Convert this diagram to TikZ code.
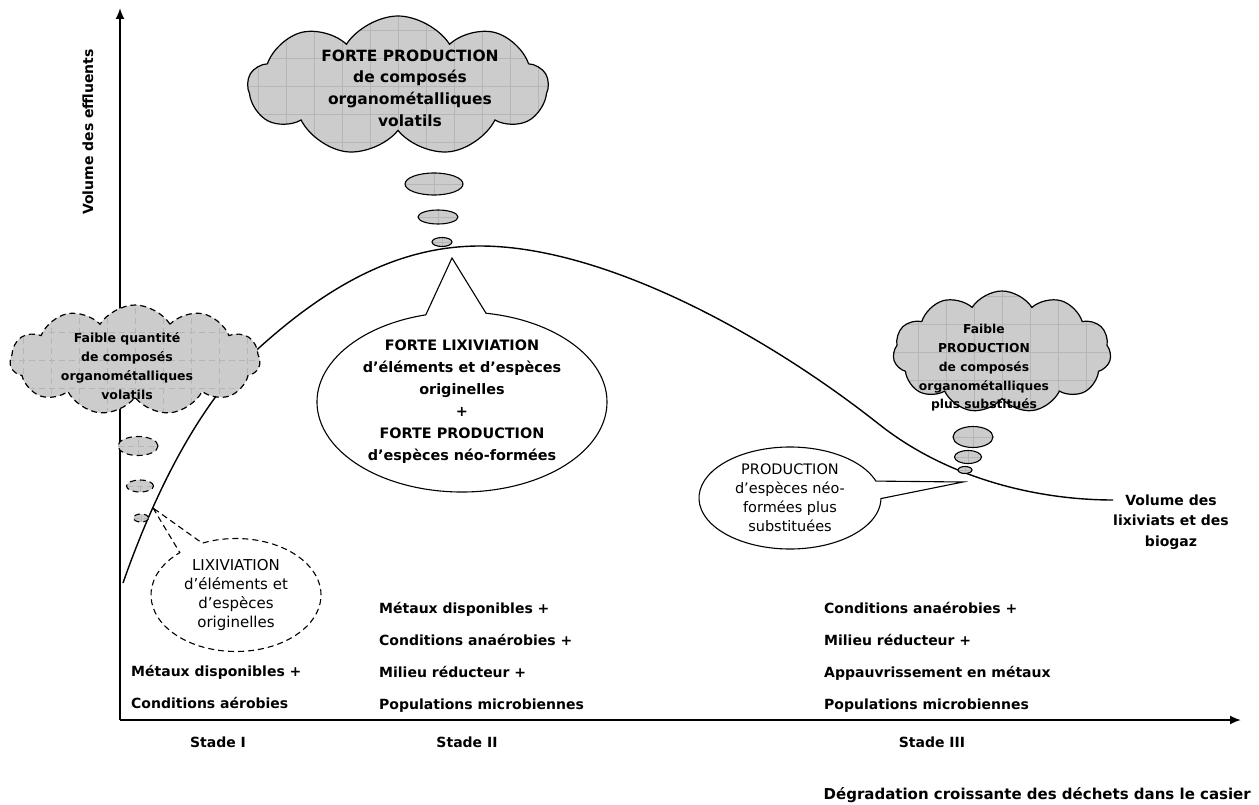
\documentclass[tikz,border=0pt]{standalone}
\usepackage{fontspec}
\setmainfont{DejaVu Sans}
\usepackage{xcolor}
\usetikzlibrary{shapes.geometric, shapes.symbols, shapes.callouts, arrows.meta, positioning, calc}
\definecolor{cloudgray}{RGB}{204, 204, 204}
\definecolor{gridgray}{RGB}{182, 182, 182}

\tikzset{
    axis/.style={-{Latex[length=11pt, width=9pt]}, line width=1.8pt},
    volcurve/.style={line width=1.4pt},
    lbl/.style={font=\bfseries\fontsize{14}{20.5}\selectfont, align=center, inner sep=0pt},
    cond/.style={font=\bfseries\fontsize{14}{17}\selectfont, inner sep=0pt, text height=10.5pt, text depth=3.5pt},
    gridfill/.style={fill=cloudgray, path picture={\draw[gridgray, line width=0.5pt, step=28pt]
        (path picture bounding box.south west) grid (path picture bounding box.north east);}},
    puff/.style={cloud, cloud puffs=11, cloud puff arc=115, cloud ignores aspect, draw, line width=1.2pt, gridfill},
    bubble/.style={ellipse, draw, line width=1.1pt, gridfill, inner sep=0pt},
    dashline/.style={dash pattern=on 6pt off 4pt},
    speech/.style={ellipse callout, draw, line width=1.1pt, fill=white, align=center, inner sep=0pt}
}

\begin{document}
\begin{tikzpicture}[x=1pt, y=-1pt, node distance=17.7pt]
    \useasboundingbox (0,0) rectangle (1259,805);

    % Axes
    \coordinate (origin) at (120,720);
    \coordinate (ytop) at (120,8);
    \coordinate (xend) at (1241,720);
    \draw[axis] (origin) -- (ytop);
    \draw[axis] (origin) -- (xend);
    \node[lbl, rotate=90] (ylabel) at (88,132) {Volume des effluents};

    % Volume curve
    \coordinate (peak) at (480,246);
    \coordinate (bend) at (880,425);
    \coordinate (curveend) at (1113,500);
    \draw[volcurve] (123,583) .. controls (145,520) and (190,410) .. (260,347)
        .. controls (330,284) and (400,246) .. (peak)
        .. controls (600,246) and (760,330) .. (bend)
        .. controls (950,480) and (1040,500) .. (curveend);
    \node[lbl] (curvelabel) at (1171,522) {Volume des\\lixiviats et des\\biogaz};

    % Clouds and thought bubbles
    \node[puff, cloud puffs=9, minimum width=300pt, minimum height=140pt] (topcloud) at (398,86) {};
    \node[lbl, font=\bfseries\fontsize{15.5}{21.7}\selectfont] (toptext) at (410,88)
        {FORTE PRODUCTION\\de composés\\organométalliques\\volatils};
    \node[bubble, minimum width=58pt, minimum height=22pt] (tb1) at (434,184) {};
    \node[bubble, minimum width=40pt, minimum height=14pt] (tb2) at (438,217) {};
    \node[bubble, minimum width=20pt, minimum height=9pt] (tb3) at (442,242) {};

    \node[puff, dashline, minimum width=250pt, minimum height=110pt] (leftcloud) at (135,360) {};
    \node[lbl, font=\bfseries\fontsize{12.5}{19}\selectfont] (lefttext) at (127,366)
        {Faible quantité\\de composés\\organométalliques\\volatils};
    \node[bubble, dashline, minimum width=40pt, minimum height=19pt] (lb1) at (138,446) {};
    \node[bubble, dashline, minimum width=27pt, minimum height=12pt] (lb2) at (140,486) {};
    \node[bubble, dashline, minimum width=15pt, minimum height=8pt] (lb3) at (141,518) {};

    \node[puff, minimum width=218pt, minimum height=122pt] (rightcloud) at (1002,352) {};
    \node[lbl, font=\bfseries\fontsize{12.3}{18.8}\selectfont] (righttext) at (984,368)
        {Faible\\PRODUCTION\\de composés\\organométalliques\\plus substitués};
    \node[bubble, minimum width=40pt, minimum height=21pt] (rb1) at (973,437) {};
    \node[bubble, minimum width=27pt, minimum height=13pt] (rb2) at (968,457) {};
    \node[bubble, minimum width=14pt, minimum height=7pt] (rb3) at (965,470) {};

    % Speech callouts
    \coordinate (lixtip) at (153,508);
    \coordinate (bigtip) at (452,258);
    \coordinate (prodtip) at (963,482);
    \node[speech, dashline, minimum width=170pt, minimum height=113pt, callout absolute pointer={(lixtip)},
          callout pointer arc=18, font=\fontsize{15}{19}\selectfont] (lixcall) at (236,595)
        {LIXIVIATION\\d’éléments et\\d’espèces\\originelles};
    \node[speech, minimum width=290pt, minimum height=180pt, callout absolute pointer={(bigtip)},
          callout pointer arc=24, font=\bfseries\fontsize{14.4}{22}\selectfont] (bigcall) at (462,402)
        {FORTE LIXIVIATION\\d’éléments et d’espèces\\originelles\\+\\FORTE PRODUCTION\\d’espèces néo-formées};
    \node[speech, minimum width=182pt, minimum height=102pt, callout absolute pointer={(prodtip)},
          callout pointer arc=20, font=\fontsize{14.5}{19}\selectfont] (prodcall) at (790,498)
        {PRODUCTION\\d’espèces néo-\\formées plus\\substituées};

    % Conditions per stage
    \node[cond, anchor=north west] (s1a) at (131,665.5) {Métaux disponibles +};
    \node[cond, below=of s1a.south west, anchor=north west] (s1b) {Conditions aérobies};

    \node[cond, anchor=north west] (s2a) at (379,602.5) {Métaux disponibles +};
    \node[cond, below=of s2a.south west, anchor=north west] (s2b) {Conditions anaérobies +};
    \node[cond, below=of s2b.south west, anchor=north west] (s2c) {Milieu réducteur +};
    \node[cond, below=of s2c.south west, anchor=north west] (s2d) {Populations microbiennes};

    \node[cond, anchor=north west] (s3a) at (824,602.5) {Conditions anaérobies +};
    \node[cond, below=of s3a.south west, anchor=north west] (s3b) {Milieu réducteur +};
    \node[cond, below=of s3b.south west, anchor=north west] (s3c) {Appauvrissement en métaux};
    \node[cond, below=of s3c.south west, anchor=north west] (s3d) {Populations microbiennes};

    % Stages
    \node[lbl] (stade1) at (218,742) {Stade I};
    \node[lbl] (stade2) at (467,742) {Stade II};
    \node[lbl] (stade3) at (932,742) {Stade III};
    \node[lbl, font=\bfseries\fontsize{15}{18}\selectfont, anchor=east] (xlabel) at (1251,795)
        {Dégradation croissante des déchets dans le casier};
\end{tikzpicture}
\end{document}
